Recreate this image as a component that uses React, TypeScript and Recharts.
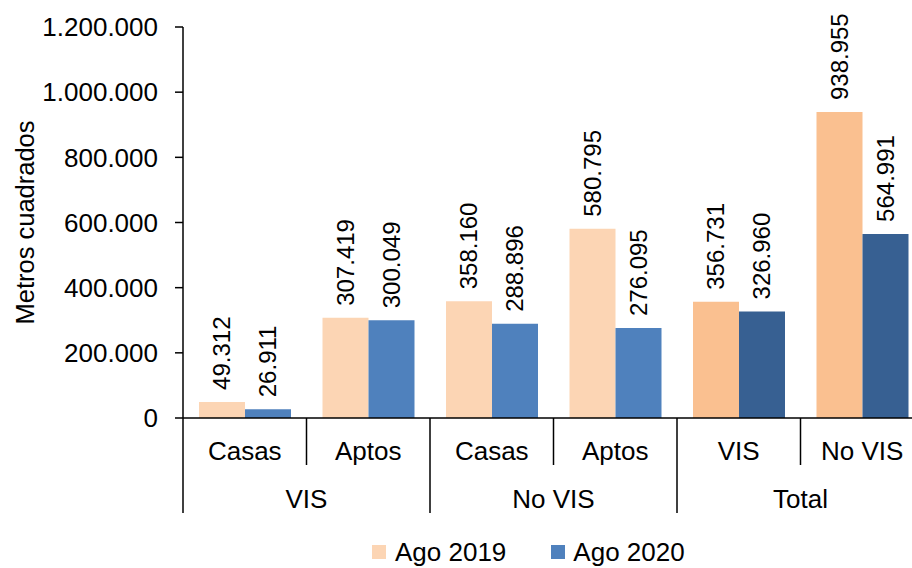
import React from 'react';
import { BarChart, Bar, XAxis, YAxis, CartesianGrid, Legend, LabelList, Cell } from 'recharts';

const categories = ['Casas', 'Aptos', 'Casas', 'Aptos', 'VIS', 'No VIS'];
const groups = ['VIS', 'VIS', 'No VIS', 'No VIS', 'Total', 'Total'];
const ago2019 = [49312, 307419, 358160, 580795, 356731, 938955];
const ago2020 = [26911, 300049, 288896, 276095, 326960, 564991];
const yTicks = [0, 200000, 400000, 600000, 800000, 1000000, 1200000];
const seriesNames = ['Ago 2019', 'Ago 2020'];

const c2019 = '#FCD5B4';
const c2019Total = '#FAC090';
const c2020 = '#4F81BD';
const c2020Total = '#376092';

const FONT = '"Liberation Sans", Arial, sans-serif';
const FS = 26;

const data = categories.map((c, i) => ({
  key: `${groups[i]}-${c}-${i}`,
  a: ago2019[i],
  b: ago2020[i],
}));

const fmt = (v: number) => String(Math.round(v)).replace(/\B(?=(\d{3})+(?!\d))/g, '.');

const XTick = (props: any) => {
  const { x, y, payload } = props;
  const i = payload.index;
  const off = payload.offset || 0;
  const left = x - off;
  const right = x + off;
  const isGroupStart = i === 0 || groups[i] !== groups[i - 1];
  const isLast = i === categories.length - 1;
  let groupEndRight = right;
  if (isGroupStart) {
    let j = i;
    while (j + 1 < groups.length && groups[j + 1] === groups[i]) j++;
    groupEndRight = left + (j - i + 1) * off * 2;
  }
  return (
    <g>
      <text x={x} y={y + 42} textAnchor="middle" fontSize={FS} fontFamily={FONT} fill="#000">
        {categories[i]}
      </text>
      <line x1={left} x2={left} y1={y} y2={y + (isGroupStart ? 95 : 47)} stroke="#000" strokeWidth={1.5} />
      {isLast && <line x1={right} x2={right} y1={y} y2={y + 95} stroke="#000" strokeWidth={1.5} />}
      {isGroupStart && (
        <text x={(left + groupEndRight) / 2} y={y + 90} textAnchor="middle" fontSize={FS} fontFamily={FONT} fill="#000">
          {groups[i]}
        </text>
      )}
    </g>
  );
};

const VLabel = (props: any) => {
  const { x, y, width, value } = props;
  const cx = x + width / 2;
  const ty = y - 12;
  return (
    <text
      x={cx}
      y={ty}
      transform={`rotate(-90, ${cx}, ${ty})`}
      textAnchor="start"
      dominantBaseline="central"
      fontSize={24}
      fontFamily={FONT}
      fill="#000"
    >
      {fmt(value)}
    </text>
  );
};

const LegendContent = () => (
  <div style={{ display: 'flex', alignItems: 'center', paddingLeft: 372, paddingTop: 24, fontFamily: FONT, fontSize: FS, color: '#000', lineHeight: '30px' }}>
    <span style={{ display: 'inline-block', width: 14, height: 14, background: c2019, marginRight: 9 }} />
    <span style={{ marginRight: 45 }}>{seriesNames[0]}</span>
    <span style={{ display: 'inline-block', width: 14, height: 14, background: c2020, marginRight: 8 }} />
    <span>{seriesNames[1]}</span>
  </div>
);

const gridGen = ({ xAxis }: any) => {
  try {
    const s = xAxis.scale;
    const dom = s.domain();
    return dom.slice(1).map((d: any) => s(d));
  } catch (e) {
    return [];
  }
};

export default function App() {
  return (
    <div style={{ position: 'absolute', left: 0, top: 0, width: 912, height: 568, overflow: 'hidden', background: '#fff' }}>
      <BarChart
        width={926}
        height={568}
        data={data}
        margin={{ top: 27, right: 2, bottom: 0, left: 0 }}
        barCategoryGap={16}
        barGap={0}
      >
        <CartesianGrid horizontal={false} vertical stroke="#C0C0C0" strokeWidth={1.5} verticalCoordinatesGenerator={gridGen} />
        <XAxis
          dataKey="key"
          height={95}
          tick={<XTick />}
          tickLine={false}
          tickSize={0}
          tickMargin={0}
          interval={0}
          axisLine={{ stroke: '#000', strokeWidth: 1.5 }}
        />
        <YAxis
          width={183}
          domain={[0, 1200000]}
          ticks={yTicks}
          tickFormatter={fmt}
          tickSize={8}
          tickMargin={17}
          tick={{ fontSize: FS, fontFamily: FONT, fill: '#000' }}
          axisLine={{ stroke: '#000', strokeWidth: 1.5 }}
          tickLine={{ stroke: '#000', strokeWidth: 1.5 }}
          label={{
            content: (p: any) => {
              const vb = p.viewBox;
              const cx = 25;
              const cy = vb.y + vb.height / 2;
              return (
                <text x={cx} y={cy} transform={`rotate(-90, ${cx}, ${cy})`} textAnchor="middle" dominantBaseline="central" fontSize={25.5} fontFamily={FONT} fill="#000">
                  Metros cuadrados
                </text>
              );
            },
          }}
        />
        <Legend verticalAlign="bottom" height={55} content={<LegendContent />} />
        <Bar dataKey="a" name={seriesNames[0]} fill={c2019} isAnimationActive={false}>
          {data.map((d, i) => (
            <Cell key={d.key} fill={groups[i] === 'Total' ? c2019Total : c2019} />
          ))}
          <LabelList dataKey="a" content={<VLabel />} />
        </Bar>
        <Bar dataKey="b" name={seriesNames[1]} fill={c2020} isAnimationActive={false}>
          {data.map((d, i) => (
            <Cell key={d.key} fill={groups[i] === 'Total' ? c2020Total : c2020} />
          ))}
          <LabelList dataKey="b" content={<VLabel />} />
        </Bar>
      </BarChart>
    </div>
  );
}
